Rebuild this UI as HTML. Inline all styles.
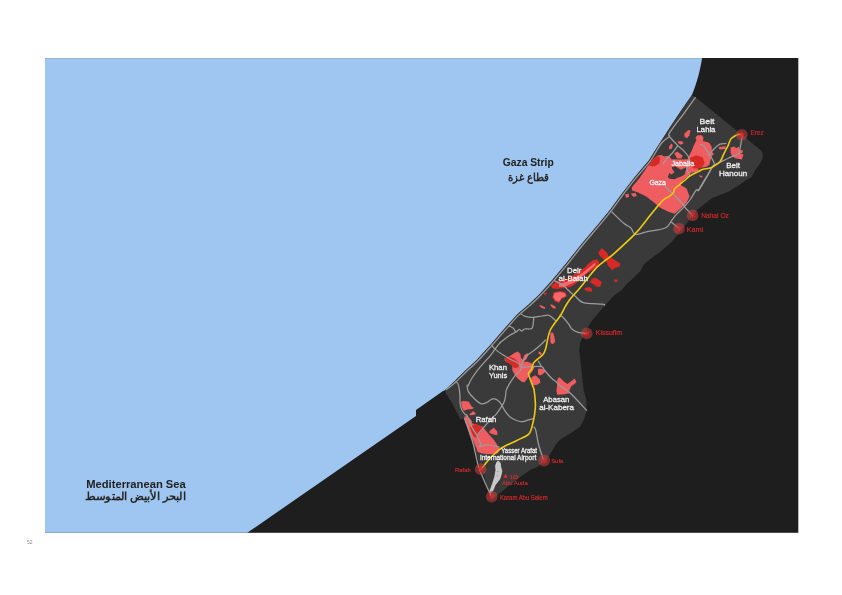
<!DOCTYPE html>
<html><head><meta charset="utf-8">
<style>
html,body{margin:0;padding:0;background:#fff;width:842px;height:595px;overflow:hidden}
svg{display:block;position:absolute;left:0;top:0;will-change:transform}
text{font-family:"Liberation Sans",sans-serif}
</style></head><body>
<svg width="842" height="595" viewBox="0 0 842 595">
<rect x="45" y="58" width="753.3" height="474.8" fill="#1e1e1e"/>
<path fill="#9ec6f0" d="M45,58 L702.1,58 C700.5,68 697.5,82 691.8,95.3 L681.2,110.6 L669.4,128.2 L656.5,148.2 L649.2,160.0 L634.4,177.5 L620.9,195.0 L610.2,209.7 L598.1,224.5 L581.8,243.8 L565.7,264.0 L552.3,280.1 L538.8,294.9 L528.1,305.0 L517.6,314.1 L505.9,327.1 L490.6,344.7 L476.7,360.0 L464.9,370.9 L454.8,381.0 L444.6,390.5 L443,391.1 L416,410 L416,416 L247.3,532.8 L45,532.8 Z"/>
<line x1="45" y1="58.5" x2="702" y2="58.5" stroke="#8aa0bb" stroke-opacity="0.45" stroke-width="1"/>
<path fill="#3a3a3a" d="M691.8,95.3 L695.3,97.1 L761.2,150.6 L762.9,153.5 L762.4,159.4 L758.8,165.3 L755.3,170.0 L751.8,177.1 L747.1,179.4 L738.8,185.3 L729.4,191.2 L711.8,198.2 L697.0,210.0 L683.0,228.0 L671.3,242.3 L660.0,252.0 L650.0,259.3 L643.8,264.4 L640.4,271.1 L634.5,277.0 L627.0,283.7 L621.9,290.0 L614.5,295.0 L605.4,305.1 L598.3,313.2 L592.3,320.3 L587.2,328.3 L583.2,335.4 L580.2,342.5 L579.2,350.0 L581.5,370.0 L583.6,390.0 L586.4,400.0 L586.4,412.0 L583.7,420.2 L579.7,426.9 L570.3,433.6 L560.9,439.0 L556.9,443.0 L552.8,449.7 L548.8,456.4 L543.4,463.1 L536.7,467.2 L530.0,470.0 L519.0,478.0 L506.3,487.7 L496.3,496.3 L492.0,499.0 L475.3,452.0 L469.2,435.0 L464.5,418.5 L460.5,419.5 L453.1,405.1 L447.0,395.0 L444.6,390.5 L454.8,381.0 L464.9,370.9 L476.7,360.0 L490.6,344.7 L505.9,327.1 L517.6,314.1 L528.1,305.0 L538.8,294.9 L552.3,280.1 L565.7,264.0 L581.8,243.8 L598.1,224.5 L610.2,209.7 L620.9,195.0 L634.4,177.5 L649.2,160.0 L656.5,148.2 L669.4,128.2 L681.2,110.6 Z"/>
<g fill="#ef5d60">
<path d="M631.7,187.6 L639.2,178.5 L648.2,165.4 L653.3,159.3 L657.1,155.7 L661.4,155.0 L664.2,156.4 L667.1,155.7 L669.9,157.1 L671.4,159.3 L680.0,159.5 L687.5,159.3 L689.4,155.3 L691.8,150.6 L693.5,145.9 L695.3,142.4 L696.5,140.0 L695.3,137.6 L697.6,135.3 L701.8,135.3 L703.5,137.6 L702.9,141.2 L706.5,141.8 L709.4,142.9 L711.8,147.1 L711.8,151.8 L714.1,154.1 L711.8,155.9 L710.6,160.0 L709.4,164.7 L705.9,167.1 L702.0,167.5 L699.0,166.5 L696.5,166.2 L698.5,169.0 L698.3,171.1 L694.0,172.5 L691.6,172.5 L689.5,174.5 L687.5,176.8 L684.0,179.2 L680.7,185.0 L686.6,188.6 L689.6,196.6 L686.6,202.7 L680.5,208.7 L674.5,213.8 L668.4,211.8 L660.3,207.7 L654.3,202.7 L646.2,196.6 L638.2,192.6 L632.1,190.6 Z"/>
<path d="M625.0,194.6 L628.5,193.6 L629.1,197.1 L626.1,197.7 Z"/>
<path d="M630.9,193.6 L635.6,193.0 L636.8,195.9 L633.3,197.1 Z"/>
<path d="M684.1,134.1 L688.2,130.0 L690.6,130.6 L689.4,135.3 L687.1,138.2 L684.7,137.1 Z"/>
<path d="M677.6,141.2 L682.4,141.2 L683.5,143.5 L680.6,144.7 L678.2,142.9 Z"/>
<path d="M668.8,147.1 L671.2,143.5 L672.9,145.3 L671.8,148.8 L669.4,149.4 Z"/>
<path d="M674.2,153.6 L677.1,151.4 L679.9,153.6 L682.8,155.7 L681.3,158.5 L677.1,158.5 Z"/>
<path d="M718.8,147.0 L725.5,146.2 L725.9,149.0 L719.5,149.6 Z"/>
<path d="M698.8,175.3 L702.4,175.9 L702.4,177.6 L700.0,177.1 Z"/>
<path d="M730.6,147.6 L734.1,146.5 L736.5,148.2 L738.8,146.5 L739.4,150.6 L742.9,150.0 L742.4,152.9 L740.6,153.5 L743.5,154.7 L741.8,159.4 L737.6,158.8 L735.3,158.2 L731.8,155.9 L730.6,152.4 Z"/>
<path d="M504.2,358.2 L509.3,356.6 L514.3,353.1 L517.8,351.6 L520.4,354.1 L520.9,357.7 L522.4,359.7 L524.4,355.1 L527.4,353.1 L528.4,355.1 L526.4,359.2 L523.4,361.7 L527.4,361.7 L531.5,363.2 L534.5,367.2 L532.5,371.3 L529.4,375.3 L527.4,378.3 L524.4,382.4 L521.4,381.4 L517.3,378.3 L514.3,374.3 L512.3,370.3 L512.3,365.2 L509.3,363.2 L505.2,361.2 Z"/>
<path d="M531.5,377.3 L535.5,375.3 L539.5,379.3 L540.5,382.4 L537.5,384.4 L533.5,385.4 L530.9,382.4 Z"/>
<path d="M538.0,368.8 L542.5,368.8 L545.6,370.3 L544.6,372.3 L540.5,375.3 L538.0,374.3 Z"/>
<path d="M538.5,351.6 L540.5,352.1 L542.0,354.1 L540.5,355.1 L538.5,353.6 Z"/>
<path d="M550.6,340.0 L554.6,340.0 L555.2,342.0 L552.6,344.0 L550.6,343.0 Z"/>
<path d="M532.1,379.1 L536.1,376.1 L540.2,380.1 L538.2,384.1 L535.1,385.1 L532.1,382.1 Z"/>
<path d="M538.2,370.0 L544.2,370.0 L543.2,374.0 L539.2,375.5 Z"/>
<path d="M557.7,378.3 L560.0,377.3 L560.5,386.0 L558.5,395.5 L556.7,388.4 Z"/>
<path d="M539.5,305.1 L541.5,305.5 L545.4,307.5 L544.5,308.9 L542.0,308.0 L539.8,306.5 Z"/>
<path d="M550.4,304.2 L552.5,304.8 L555.9,307.0 L555.0,308.9 L552.5,307.8 L550.8,306.0 Z"/>
<path d="M550.5,332.8 L553.0,332.5 L554.2,336.0 L555.0,341.0 L553.0,343.7 L550.8,343.0 L550.2,338.0 Z"/>
<path d="M557.3,380.1 L560.4,378.1 L564.4,382.1 L567.4,384.1 L571.5,381.1 L574.5,378.6 L576.5,382.1 L574.5,384.1 L571.5,386.1 L569.4,390.2 L569.4,393.2 L564.4,394.2 L557.3,394.7 L556.3,390.2 L558.3,387.1 Z"/>
<path d="M461.1,401.7 L463.2,401.1 L468.5,401.4 L470.5,404.4 L471.9,406.8 L473.9,407.8 L472.6,409.1 L467.2,409.5 L465.2,410.5 L463.2,410.1 L461.8,407.1 Z"/>
<path d="M469.2,414.5 L473.2,411.1 L475.9,413.8 L474.6,414.8 L470.5,415.2 Z"/>
<path d="M464.5,416.5 L466.5,415.8 L469.9,418.5 L471.9,421.2 L471.9,423.2 L474.6,423.9 L478.6,425.3 L482.6,426.6 L485.3,429.9 L490.6,436.3 L494.0,440.0 L496.3,443.6 L499.9,449.3 L497.7,453.5 L490.6,454.2 L482.1,453.5 L477.8,452.1 L475.6,446.4 L473.0,440.0 L469.9,435.0 L467.2,427.3 L465.2,421.9 Z"/>
<path d="M489.5,431.0 L493.8,427.8 L497.0,431.0 L497.6,435.2 L492.8,434.2 L489.5,433.1 Z"/>
</g>
<g fill="#3a3a3a">
<path d="M672.1,166.8 L675.5,166.3 L679.3,168.7 L681.2,169.7 L684.0,168.2 L685.9,167.3 L687.3,168.7 L685.4,171.1 L685.0,173.9 L683.0,175.4 L680.7,176.8 L677.4,177.7 L674.5,179.2 L669.8,178.7 L667.9,177.3 L669.3,173.0 L671.2,174.4 L674.5,172.5 L672.1,168.7 Z"/>
</g>
<g fill="#d62a26">
<path d="M648.2,165.4 L653.3,159.3 L657.1,155.7 L660.3,157.5 L659.3,163.4 L654.3,166.4 Z"/>
<path d="M688.6,158.3 L696.6,155.3 L702.7,157.3 L704.7,163.4 L700.7,168.4 L693.6,168.4 L689.6,163.4 Z"/>
<path d="M504.2,358.2 L509.3,356.6 L514.3,358.2 L519.3,363.2 L518.3,367.2 L514.3,368.2 L510.3,364.2 L506.2,361.2 Z"/>
<path d="M474.6,423.9 L482.6,426.6 L482.6,430.0 L477.3,434.7 L476.5,438.0 L473.2,436.0 L469.9,427.3 Z"/>
<path d="M598.4,252.6 L601.8,248.0 L606.8,252.6 L608.5,256.0 L613.5,259.3 L620.3,263.5 L619.4,266.9 L615.2,267.7 L612.3,270.3 L610.2,267.7 L607.6,265.2 L606.8,261.8 L602.6,258.5 L599.2,255.1 Z"/>
<path d="M550.9,285.5 L556.3,281.5 L564.4,279.5 L571.1,276.8 L577.8,272.1 L584.5,268.0 L587.9,264.0 L592.6,260.6 L597.3,259.3 L599.3,262.6 L598.0,266.7 L593.3,269.4 L587.2,273.4 L580.5,278.8 L575.1,284.2 L571.1,286.8 L563.0,288.2 L556.3,288.9 L552.3,288.2 Z"/>
<path d="M553.6,292.2 L560.3,290.9 L565.7,292.2 L567.1,296.3 L561.7,298.9 L559.0,303.0 L555.0,301.6 L552.3,297.6 Z"/>
<path d="M591.7,278.7 L595.9,277.8 L601.8,282.0 L600.1,287.1 L596.7,286.7 L592.5,283.7 L590.0,282.0 Z"/>
<path d="M584.7,288.0 L589.4,287.1 L592.3,289.0 L591.8,291.8 L587.5,291.3 L584.7,289.9 Z"/>
<path d="M543.8,292.8 L546.7,292.8 L546.7,294.7 L543.8,294.7 Z"/>
<path d="M614.4,279.5 L617.3,279.5 L617.3,282.0 L614.4,282.0 Z"/>
</g>
<g fill="#f26a6c">
<path d="M559.0,284.2 L571.1,280.1 L581.8,273.4 L589.9,266.7 L595.3,262.6 L595.3,265.3 L584.5,274.7 L573.8,282.8 L564.4,286.8 L559.0,286.8 Z"/>
<path d="M554.6,293.0 L560.3,291.9 L564.7,293.0 L566.0,296.0 L561.5,298.0 L559.0,301.8 L555.8,300.6 L553.3,297.3 Z"/>
</g>
<g fill="none" stroke="#9c9c9c" stroke-width="1.25" stroke-linejoin="round" stroke-linecap="round">
<path d="M695.30,97.60 C693.33,100.35 686.83,109.58 683.50,114.10 C680.17,118.62 677.75,121.37 675.30,124.70 C672.85,128.03 669.78,132.13 668.80,134.10 C667.82,136.07 670.67,134.93 669.40,136.50 C668.13,138.07 664.38,139.42 661.20,143.50 C658.03,147.58 654.62,155.15 650.35,160.97 C646.08,166.79 640.28,172.62 635.57,178.44 C630.86,184.26 626.13,190.54 622.10,195.90 C618.07,201.26 615.20,205.69 611.39,210.62 C607.58,215.55 603.99,219.77 599.25,225.46 C594.51,231.15 588.36,238.17 582.96,244.75 C577.56,251.33 571.78,258.89 566.86,264.95 C561.94,271.00 557.93,275.91 553.43,281.08 C548.93,286.25 543.93,291.78 539.88,295.95 C535.83,300.12 532.65,302.91 529.11,306.11 C525.57,309.31 522.34,311.50 518.66,315.16 C514.98,318.82 511.51,323.00 507.02,328.09 C502.53,333.18 496.60,340.21 491.72,345.70 C486.85,351.19 482.07,356.67 477.77,361.05 C473.47,365.43 469.59,368.48 465.94,371.98 C462.29,375.48 459.08,379.17 455.86,382.06 C452.64,384.95 448.14,388.09 446.60,389.30"/>
<path d="M455.60,381.40 C456.03,381.90 457.50,382.37 458.20,384.40 C458.90,386.43 459.48,390.48 459.80,393.60 C460.12,396.72 459.77,400.40 460.10,403.10 C460.43,405.80 460.95,407.90 461.80,409.80 C462.65,411.70 464.30,413.50 465.20,414.50 C466.10,415.50 466.08,413.67 467.20,415.80 C468.32,417.93 470.33,424.10 471.90,427.30 C473.47,430.50 475.08,432.05 476.60,435.00 C478.12,437.95 480.57,443.10 481.00,445.00 C481.43,446.90 479.50,446.17 479.20,446.40"/>
<path d="M669.60,136.90 C670.97,138.35 675.53,143.37 677.80,145.60 C680.07,147.83 681.40,148.38 683.20,150.30 C685.00,152.22 687.48,154.85 688.60,157.10 C689.72,159.35 690.23,162.02 689.90,163.80 C689.57,165.58 686.60,165.78 686.60,167.80 C686.60,169.82 689.35,174.55 689.90,175.90"/>
<path d="M677.80,145.60 C676.90,146.83 674.18,150.87 672.40,153.00 C670.62,155.13 668.67,156.60 667.10,158.40 C665.53,160.20 663.68,162.90 663.00,163.80"/>
<path d="M700.20,144.40 C700.80,144.60 702.62,144.40 703.80,145.60 C704.98,146.80 705.92,149.42 707.30,151.60 C708.68,153.78 710.92,156.53 712.10,158.70 C713.28,160.87 714.45,163.20 714.40,164.60 C714.35,166.00 713.02,165.12 711.80,167.10 C710.58,169.08 709.27,172.68 707.10,176.50 C704.93,180.32 700.62,187.75 698.80,190.00 C696.98,192.25 697.62,188.42 696.20,190.00 C694.78,191.58 692.28,196.73 690.30,199.50 C688.32,202.27 686.68,204.03 684.30,206.60 C681.92,209.17 678.17,212.52 676.00,214.90 C673.83,217.28 673.08,218.72 671.30,220.90 C669.52,223.08 669.27,226.22 665.30,228.00 C661.33,229.78 652.45,230.52 647.50,231.60 C642.55,232.68 638.37,235.10 635.60,234.50 C632.83,233.90 632.87,229.87 630.90,228.00 C628.93,226.13 626.97,225.97 623.80,223.30 C620.63,220.63 613.88,213.88 611.90,212.00"/>
<path d="M708.80,155.30 C709.68,154.22 712.23,150.67 714.10,148.80 C715.97,146.93 718.03,144.98 720.00,144.10 C721.97,143.22 724.92,143.60 725.90,143.50"/>
<path d="M742.20,135.50 C741.93,137.13 741.17,142.30 740.60,145.30 C740.03,148.30 739.68,151.83 738.80,153.50 C737.92,155.17 737.07,154.52 735.30,155.30 C733.53,156.08 730.55,157.12 728.20,158.20 C725.85,159.28 723.55,160.62 721.20,161.80 C718.85,162.98 716.45,162.95 714.10,165.30 C711.75,167.65 709.45,172.18 707.10,175.90 C704.75,179.62 701.38,185.25 700.00,187.60 C698.62,189.95 699.00,189.60 698.80,190.00"/>
<path d="M662.60,184.40 C663.65,185.33 665.48,186.68 668.90,190.00 C672.32,193.32 680.53,201.53 683.10,204.30 C685.67,207.07 682.72,204.73 684.30,206.60 C685.88,208.47 691.22,214.02 692.60,215.50"/>
<path d="M671.3,222.1 L679.0,228.6"/>
<path d="M554.60,280.60 C556.13,281.47 561.48,284.15 563.80,285.80 C566.12,287.45 566.62,288.78 568.50,290.50 C570.38,292.22 572.65,294.08 575.10,296.10 C577.55,298.12 578.65,301.27 583.20,302.60 C587.75,303.93 598.87,303.68 602.40,304.10 C605.93,304.52 604.07,304.93 604.40,305.10"/>
<path d="M560.00,315.20 C560.50,315.53 561.65,315.85 563.00,317.20 C564.35,318.55 566.58,321.28 568.10,323.30 C569.62,325.32 570.42,327.78 572.10,329.30 C573.78,330.82 575.77,331.72 578.20,332.40 C580.63,333.08 585.28,333.23 586.70,333.40"/>
<path d="M520.60,313.50 C521.37,313.98 523.03,315.77 525.20,316.40 C527.37,317.03 530.80,317.37 533.60,317.30 C536.40,317.23 539.62,316.35 542.00,316.00 C544.38,315.65 546.35,315.07 547.90,315.20 C549.45,315.33 550.03,315.90 551.30,316.80 C552.57,317.70 554.80,319.97 555.50,320.60"/>
<path d="M533.60,317.30 C533.60,317.78 533.80,318.45 533.60,320.20 C533.40,321.95 533.10,326.33 532.40,327.80 C531.70,329.27 530.73,328.80 529.40,329.00 C528.07,329.20 525.67,328.65 524.40,329.00 C523.13,329.35 522.65,331.02 521.80,331.10 C520.95,331.18 520.27,329.35 519.30,329.50 C518.33,329.65 517.82,330.88 516.00,332.00 C514.18,333.12 511.07,334.38 508.40,336.20 C505.73,338.02 501.40,341.78 500.00,342.90"/>
<path d="M509.20,326.10 C509.90,326.45 512.35,327.22 513.40,328.20 C514.45,329.18 515.15,331.37 515.50,332.00"/>
<path d="M500.00,342.90 C499.42,343.60 498.07,345.03 496.50,347.10 C494.93,349.17 493.35,351.95 490.60,355.30 C487.85,358.65 483.10,363.42 480.00,367.20 C476.90,370.98 474.00,374.87 472.00,378.00 C470.00,381.13 468.67,384.67 468.00,386.00"/>
<path d="M491.80,345.30 C492.38,345.98 493.40,347.77 495.30,349.40 C497.20,351.03 500.70,353.47 503.20,355.10 C505.70,356.73 507.78,357.85 510.30,359.20 C512.82,360.55 516.45,362.03 518.30,363.20 C520.15,364.37 520.88,365.70 521.40,366.20"/>
<path d="M545.60,340.00 C544.75,340.83 542.35,343.32 540.50,345.00 C538.65,346.68 536.68,348.42 534.50,350.10 C532.32,351.78 529.25,353.42 527.40,355.10 C525.55,356.78 524.40,358.35 523.40,360.20 C522.40,362.05 521.90,364.52 521.40,366.20 C520.90,367.88 521.42,368.78 520.40,370.30 C519.38,371.82 516.98,373.28 515.30,375.30 C513.62,377.32 511.82,379.88 510.30,382.40 C508.78,384.92 506.97,388.30 506.20,390.40 C505.43,392.50 506.02,393.15 505.70,395.00 C505.38,396.85 505.03,399.52 504.30,401.50 C503.57,403.48 502.70,404.72 501.30,406.90 C499.90,409.08 497.28,412.92 495.90,414.60 C494.52,416.28 494.77,415.17 493.00,417.00 C491.23,418.83 487.83,422.73 485.30,425.60 C482.77,428.47 479.05,432.77 477.80,434.20"/>
<path d="M521.40,367.20 C522.90,367.12 527.05,366.78 530.40,366.70 C533.75,366.62 539.13,366.10 541.50,366.70 C543.87,367.30 543.08,368.53 544.60,370.30 C546.12,372.07 548.58,375.28 550.60,377.30 C552.62,379.32 555.07,380.93 556.70,382.40 C558.33,383.87 558.12,384.30 560.40,386.10 C562.68,387.90 566.03,389.15 570.40,393.20 C574.77,397.25 583.90,407.53 586.60,410.40"/>
<path d="M541.5,366.7 L538.5,361.2"/>
<path d="M467.10,385.00 C467.28,386.07 467.13,389.27 468.20,391.40 C469.27,393.53 471.37,395.75 473.50,397.80 C475.63,399.85 478.68,402.98 481.00,403.70 C483.32,404.42 485.90,402.67 487.40,402.10 C488.90,401.53 488.97,400.88 490.00,400.30 C491.03,399.72 492.32,398.60 493.60,398.60 C494.88,398.60 496.38,399.32 497.70,400.30 C499.02,401.28 500.22,402.62 501.50,404.50 C502.78,406.38 503.85,409.42 505.40,411.60 C506.95,413.78 508.92,416.12 510.80,417.60 C512.68,419.08 514.72,419.82 516.70,420.50 C518.68,421.18 520.72,421.80 522.70,421.70 C524.68,421.60 526.78,420.38 528.60,419.90 C530.42,419.42 532.77,418.98 533.60,418.80"/>
<path d="M464.50,418.50 C465.50,421.25 469.00,430.58 470.50,435.00 C472.00,439.42 472.05,439.42 473.50,445.00 C474.95,450.58 476.35,460.18 479.20,468.50 C482.05,476.82 488.70,490.50 490.60,494.90"/>
<path d="M533.90,427.10 C534.20,427.58 534.90,427.02 535.70,430.00 C536.50,432.98 537.43,440.13 538.70,445.00 C539.97,449.87 542.53,456.83 543.30,459.20"/>
<path d="M479.20,446.40 C480.87,446.17 485.87,444.88 489.20,445.00 C492.53,445.12 497.53,446.75 499.20,447.10"/>
</g>
<path fill="#c8c8c8" stroke="#e6e6e6" stroke-width="0.6" stroke-linejoin="round" d="M497,461.8 L498.9,461.4 L500.4,463.3 L500.8,467.1 L501.9,470.9 L501.2,474.7 L499.7,479.2 L497.4,482.2 L495.1,485.2 L492.9,490.5 L490.6,492.8 L489.8,491.3 L492.5,483.7 L494.7,476.9 L495.9,470.1 L495.5,465.6 Z"/><path fill="none" stroke="#8a8a8a" stroke-width="0.5" d="M496.8,471.5 L499,471.8 M496.5,475.5 L498.2,476"/><path fill="none" stroke="#ecca14" stroke-width="1.6" stroke-linejoin="round" stroke-linecap="round" d="M741.50,134.20 C740.75,134.33 738.23,134.62 737.00,135.00 C735.77,135.38 735.17,135.77 734.10,136.50 C733.03,137.23 731.58,137.93 730.60,139.40 C729.62,140.87 729.00,143.53 728.20,145.30 C727.40,147.07 726.58,148.43 725.80,150.00 C725.02,151.57 724.47,152.73 723.50,154.70 C722.53,156.67 721.42,160.02 720.00,161.80 C718.58,163.58 716.65,164.35 715.00,165.40 C713.35,166.45 712.10,167.47 710.10,168.10 C708.10,168.73 704.97,168.62 703.00,169.20 C701.03,169.78 700.47,170.50 698.30,171.60 C696.13,172.70 692.30,174.32 690.00,175.80 C687.70,177.28 686.23,179.03 684.50,180.50 C682.77,181.97 681.23,183.22 679.60,184.60 C677.97,185.98 675.72,187.50 674.70,188.80 C673.68,190.10 674.28,191.22 673.50,192.40 C672.72,193.58 671.57,194.73 670.00,195.90 C668.43,197.07 665.67,198.23 664.10,199.40 C662.53,200.57 662.37,200.93 660.60,202.90 C658.83,204.87 655.85,208.35 653.50,211.20 C651.15,214.05 649.53,216.27 646.50,220.00 C643.47,223.73 640.75,227.97 635.30,233.60 C629.85,239.23 618.60,249.48 613.80,253.80 C609.00,258.12 609.30,257.28 606.50,259.50 C603.70,261.72 600.17,263.93 597.00,267.10 C593.83,270.27 590.35,275.02 587.50,278.50 C584.65,281.98 582.90,284.42 579.90,288.00 C576.90,291.58 571.98,296.80 569.50,300.00 C567.02,303.20 566.58,304.50 565.00,307.20 C563.42,309.90 562.47,312.35 560.00,316.20 C557.53,320.05 552.60,324.82 550.20,330.30 C547.80,335.78 546.88,344.97 545.60,349.10 C544.32,353.23 543.85,353.42 542.50,355.10 C541.15,356.78 539.00,357.85 537.50,359.20 C536.00,360.55 534.50,361.52 533.50,363.20 C532.50,364.88 532.35,367.62 531.50,369.30 C530.65,370.98 528.67,371.80 528.40,373.30 C528.13,374.80 529.22,376.28 529.90,378.30 C530.58,380.32 531.80,383.42 532.50,385.40 C533.20,387.38 533.62,387.12 534.10,390.20 C534.58,393.28 535.28,400.13 535.40,403.90 C535.52,407.67 535.10,410.13 534.80,412.80 C534.50,415.47 534.23,417.03 533.60,419.90 C532.97,422.77 531.98,427.48 531.00,430.00 C530.02,432.52 530.15,433.22 527.70,435.00 C525.25,436.78 520.58,438.57 516.30,440.70 C512.02,442.83 505.57,445.67 502.00,447.80 C498.43,449.93 497.27,451.35 494.90,453.50 C492.53,455.65 490.07,458.08 487.80,460.70 C485.53,463.32 482.38,467.78 481.30,469.20"/>
<g>
<circle cx="741.8" cy="134.9" r="5.9" fill="#d04444" fill-opacity="0.5"/>
<path d="M741.80,131.80 L741.80,138.00 M744.48,133.35 L739.12,136.45 M744.48,136.45 L739.12,133.35" stroke="#f22424" stroke-width="0.95" fill="none"/>
<circle cx="692.6" cy="215.4" r="5.9" fill="#d04444" fill-opacity="0.5"/>
<path d="M692.60,212.30 L692.60,218.50 M695.28,213.85 L689.92,216.95 M695.28,216.95 L689.92,213.85" stroke="#f22424" stroke-width="0.95" fill="none"/>
<circle cx="679" cy="228.6" r="5.9" fill="#d04444" fill-opacity="0.5"/>
<path d="M679.00,225.50 L679.00,231.70 M681.68,227.05 L676.32,230.15 M681.68,230.15 L676.32,227.05" stroke="#f22424" stroke-width="0.95" fill="none"/>
<circle cx="586.7" cy="333.4" r="5.9" fill="#d04444" fill-opacity="0.5"/>
<path d="M586.70,330.30 L586.70,336.50 M589.38,331.85 L584.02,334.95 M589.38,334.95 L584.02,331.85" stroke="#f22424" stroke-width="0.95" fill="none"/>
<circle cx="544.2" cy="460.5" r="5.9" fill="#d04444" fill-opacity="0.5"/>
<path d="M544.20,457.40 L544.20,463.60 M546.88,458.95 L541.52,462.05 M546.88,462.05 L541.52,458.95" stroke="#f22424" stroke-width="0.95" fill="none"/>
<circle cx="480.6" cy="469.2" r="5.9" fill="#d04444" fill-opacity="0.5"/>
<path d="M480.60,466.10 L480.60,472.30 M483.28,467.65 L477.92,470.75 M483.28,470.75 L477.92,467.65" stroke="#f22424" stroke-width="0.95" fill="none"/>
<circle cx="491.7" cy="496.6" r="5.9" fill="#d04444" fill-opacity="0.5"/>
<path d="M491.70,493.50 L491.70,499.70 M494.38,495.05 L489.02,498.15 M494.38,498.15 L489.02,495.05" stroke="#f22424" stroke-width="0.95" fill="none"/>
</g>
<path fill="#e8282c" d="M503.4,477.8 L507.7,477.8 L505.55,473.8 Z"/>
<g fill="#f2f2f2" stroke="#f2f2f2" stroke-width="0.28" font-weight="normal">
<text x="699.6" y="124.4" font-size="8.0" textLength="14.9" lengthAdjust="spacingAndGlyphs">Beit</text>
<text x="696.6" y="132.3" font-size="7.8" textLength="18.8" lengthAdjust="spacingAndGlyphs">Lahia</text>
<text x="726.3" y="167.6" font-size="8.0" textLength="13.7" lengthAdjust="spacingAndGlyphs">Beit</text>
<text x="719" y="175.7" font-size="7.9" textLength="28.1" lengthAdjust="spacingAndGlyphs">Hanoun</text>
<text x="671.4" y="165.7" font-size="7.5" textLength="22.8" lengthAdjust="spacingAndGlyphs">Jabalia</text>
<text x="649.4" y="184.7" font-size="7.5" textLength="16.5" lengthAdjust="spacingAndGlyphs">Gaza</text>
<text x="567.1" y="272.8" font-size="7.8" textLength="14.2" lengthAdjust="spacingAndGlyphs">Deir</text>
<text x="558.5" y="280.9" font-size="7.9" textLength="29.5" lengthAdjust="spacingAndGlyphs">al-Balah</text>
<text x="488.9" y="369.8" font-size="7.8" textLength="18.1" lengthAdjust="spacingAndGlyphs">Khan</text>
<text x="488.9" y="377.5" font-size="7.7" textLength="18.3" lengthAdjust="spacingAndGlyphs">Yunis</text>
<text x="543.2" y="401.8" font-size="7.8" textLength="26.2" lengthAdjust="spacingAndGlyphs">Abasan</text>
<text x="539.2" y="409.8" font-size="7.9" textLength="34.8" lengthAdjust="spacingAndGlyphs">al-Kabera</text>
<text x="475.7" y="422.2" font-size="7.7" textLength="20.5" lengthAdjust="spacingAndGlyphs">Rafah</text>
<text x="501.3" y="452.8" font-size="6.6" textLength="35.6" lengthAdjust="spacingAndGlyphs">Yasser Arafat</text>
<text x="479.9" y="460" font-size="6.7" textLength="56.3" lengthAdjust="spacingAndGlyphs">International Airport</text>
</g>
<g fill="#e02a2e" stroke="#e02a2e" stroke-width="0.12" font-weight="normal">
<text x="750.7" y="135.2" font-size="6.6" textLength="13.0" lengthAdjust="spacingAndGlyphs">Erez</text>
<text x="701.2" y="218.1" font-size="6.6" textLength="27.7" lengthAdjust="spacingAndGlyphs">Nahal Oz</text>
<text x="686.8" y="231.7" font-size="6.8" textLength="16.4" lengthAdjust="spacingAndGlyphs">Karni</text>
<text x="595.8" y="334.9" font-size="6.6" textLength="26.2" lengthAdjust="spacingAndGlyphs">Kissufim</text>
<text x="551.2" y="463.2" font-size="5.9" textLength="12.1" lengthAdjust="spacingAndGlyphs">Sufa</text>
<text x="455" y="471.8" font-size="5.8" textLength="15.7" lengthAdjust="spacingAndGlyphs">Rafah</text>
<text x="502" y="484.9" font-size="6.0" textLength="25.7" lengthAdjust="spacingAndGlyphs">Abu Auda</text>
<text x="509.8" y="478.5" font-size="4.5" textLength="8.6" lengthAdjust="spacingAndGlyphs">105</text>
<text x="499.9" y="499.8" font-size="6.4" textLength="47.7" lengthAdjust="spacingAndGlyphs">Karam Abu Salem</text>
</g>
<g fill="#222" font-weight="bold">
<text x="502.8" y="166.1" font-size="10.6" textLength="50.9" lengthAdjust="spacingAndGlyphs">Gaza Strip</text>
<text x="86.2" y="487.8" font-size="10.4" textLength="99.6" lengthAdjust="spacingAndGlyphs">Mediterranean Sea</text>
</g>
<g fill="#262626" font-size="10.5" font-weight="bold">
<text x="507.6" y="180.6" textLength="41.3" lengthAdjust="spacingAndGlyphs">قطاع غزة</text>
<text x="85.4" y="500.4" textLength="100.4" lengthAdjust="spacingAndGlyphs">البحر الأبيض المتوسط</text>
</g>
<text x="27" y="543.6" font-size="5" fill="#8a8a8a">52</text>
</svg>
</body></html>
